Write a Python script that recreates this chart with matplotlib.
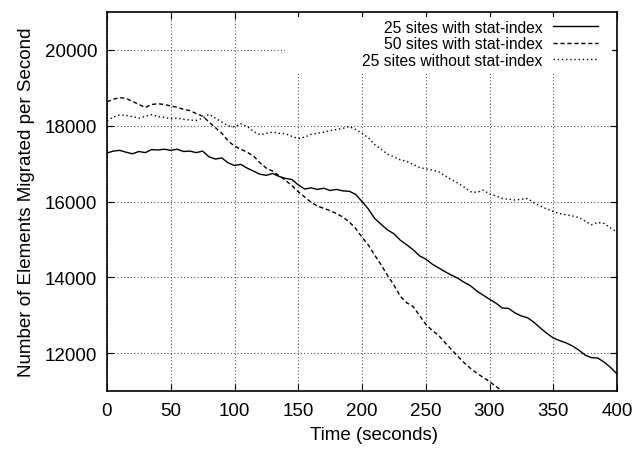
import matplotlib
matplotlib.use('Agg')
import matplotlib.pyplot as plt
from matplotlib.patches import Rectangle

plt.rcParams['font.family'] = ['Liberation Sans', 'DejaVu Sans']

# time axis (seconds), sampled every 5 s
t = list(range(0, 405, 5))

# 25 sites with stat-index
with25 = [17280, 17330, 17350, 17300, 17260, 17320, 17290, 17370, 17360, 17380,
          17350, 17380, 17320, 17330, 17290, 17330, 17180, 17120, 17150, 17020,
          16950, 16980, 16880, 16800, 16720, 16690, 16740, 16660, 16610, 16580,
          16440, 16330, 16360, 16320, 16350, 16290, 16320, 16280, 16270, 16190,
          16000, 15800, 15550, 15400, 15250, 15150, 14980, 14860, 14730, 14570,
          14480, 14350, 14250, 14150, 14060, 13980, 13870, 13780, 13640, 13530,
          13420, 13320, 13190, 13180, 13060, 12980, 12930, 12810, 12660, 12520,
          12400, 12330, 12270, 12190, 12080, 11950, 11880, 11870, 11760, 11620,
          11450]

# 50 sites with stat-index (runs off the bottom after ~310 s)
t50 = list(range(0, 320, 5))
with50 = [18630, 18700, 18740, 18720, 18640, 18560, 18480, 18560, 18580, 18560,
          18520, 18490, 18430, 18400, 18320, 18250, 18100, 17950, 17800, 17600,
          17460, 17380, 17300, 17200, 17020, 16880, 16800, 16680, 16560, 16420,
          16260, 16120, 15980, 15880, 15820, 15760, 15680, 15590, 15460, 15290,
          15060, 14850, 14580, 14330, 14050, 13800, 13500, 13330, 13230, 13000,
          12760, 12600, 12470, 12280, 12100, 11920, 11750, 11600, 11470, 11360,
          11250, 11120, 11000, 10880]

# 25 sites without stat-index
without25 = [18130, 18230, 18290, 18270, 18240, 18200, 18250, 18290, 18240, 18220,
             18180, 18200, 18170, 18150, 18140, 18200, 18300, 18200, 18100, 18000,
             17970, 18050, 17980, 17850, 17760, 17800, 17830, 17800, 17790, 17720,
             17660, 17700, 17770, 17800, 17830, 17870, 17900, 17930, 17980, 17900,
             17800, 17680, 17500, 17380, 17250, 17180, 17100, 17060, 16980, 16900,
             16860, 16830, 16790, 16680, 16580, 16490, 16380, 16260, 16240, 16300,
             16200, 16150, 16080, 16060, 16040, 16060, 16080, 15960, 15880, 15800,
             15740, 15680, 15650, 15620, 15580, 15480, 15390, 15450, 15420, 15300,
             15200]

fig = plt.figure(figsize=(6.43, 4.52), dpi=100)
ax = fig.add_axes([0.1664, 0.1327, 0.7932, 0.8385])

ax.plot(t, with25, color='black', lw=1.0, label='25 sites with stat-index')
ax.plot(t50, with50, color='black', lw=1.0, linestyle=(0, (3, 2)),
        label='50 sites with stat-index')
ax.plot(t, without25, color='black', lw=1.0, linestyle=(0, (1, 2)),
        label='25 sites without stat-index')

ax.set_xlim(0, 400)
ax.set_ylim(11000, 21000)
ax.set_xticks(range(0, 401, 50))
ax.set_yticks(range(12000, 20001, 2000))
ax.tick_params(direction='in', top=True, right=True, length=5, labelsize=13.5)
ax.tick_params(axis='x', pad=8)
ax.tick_params(axis='y', pad=7)
ax.grid(True, linestyle=(0, (1, 2)), color='#555555', lw=0.8)
for s in ax.spines.values():
    s.set_linewidth(1.2)

ax.set_xlabel('Time (seconds)', fontsize=13.5, labelpad=5)
ax.xaxis.label.set_x(0.524)
ax.set_ylabel('Number of Elements Migrated per Second', fontsize=13.5, labelpad=7)

# white key box (hides the grid behind the legend, like gnuplot)
ax.add_patch(Rectangle((0.349, 0.836), 0.641, 0.15, transform=ax.transAxes,
                       facecolor='white', edgecolor='none', zorder=1.6))

leg = ax.legend(loc='upper right', bbox_to_anchor=(0.9725, 0.992),
                markerfirst=False, fontsize=11.25, frameon=False,
                handlelength=2.9, handletextpad=0.65, borderaxespad=0,
                labelspacing=0.1, borderpad=0.3, alignment='right')
for txt in leg.get_texts():
    txt.set_ha('right')
leg.set_zorder(5)

fig.savefig('out.png', dpi=100)
plt.close()
